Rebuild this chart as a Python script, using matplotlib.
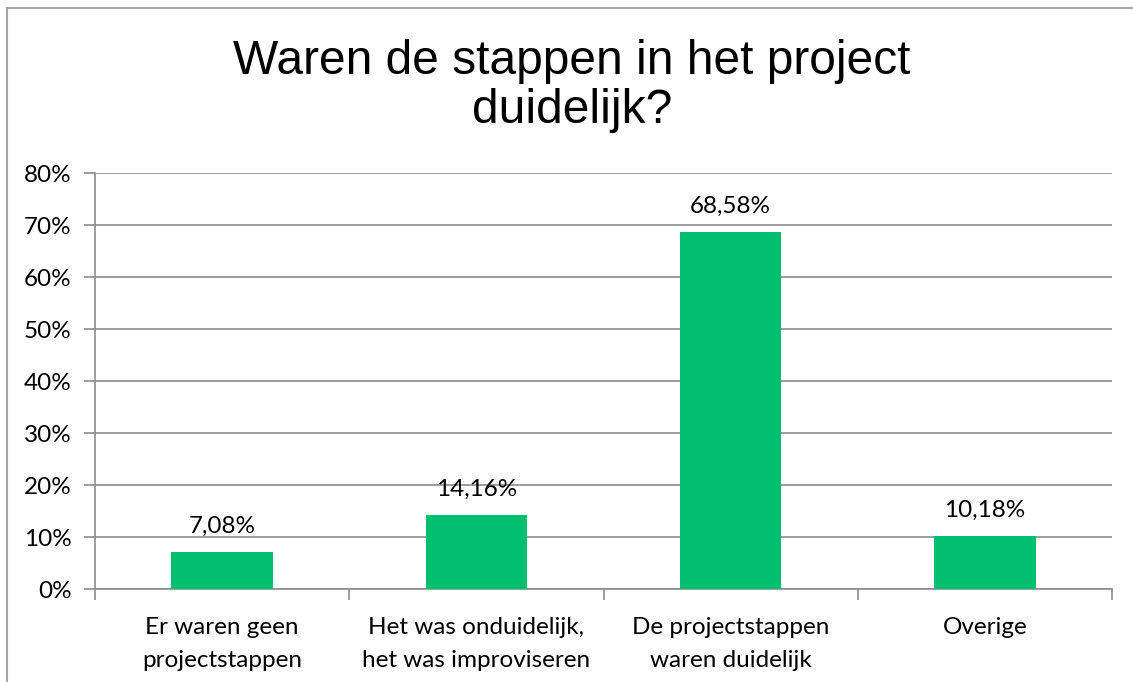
import numpy as np
import matplotlib.pyplot as plt
from matplotlib.patches import Rectangle

categories = ["Er waren geen\nprojectstappen",
              "Het was onduidelijk,\nhet was improviseren",
              "De projectstappen\nwaren duidelijk",
              "Overige"]
values = [7.08, 14.16, 68.58, 10.18]
value_labels = ["7,08%", "14,16%", "68,58%", "10,18%"]
yticks = [0, 10, 20, 30, 40, 50, 60, 70, 80]

bar_color = "#00BF6F"
grid_color = "#8C8C8C"
body_font = ["Lato", "DejaVu Sans"]

fig = plt.figure(figsize=(11.33, 6.82), dpi=100)
fig.patches.append(Rectangle((7 / 1133, -0.01), 1.1, 1 - 8 / 682 + 0.01,
                             transform=fig.transFigure, fill=False,
                             edgecolor="#A6A6A6", linewidth=1.5))

ax = fig.add_axes([95 / 1133, 1 - 589 / 682, (1112 - 95) / 1133, (589 - 173) / 682])
x = np.arange(len(categories))
ax.bar(x, values, width=0.4, color=bar_color, zorder=3)

ax.set_xlim(-0.5, len(categories) - 0.5)
ax.set_ylim(0, 80)
ax.set_yticks(yticks)
ax.set_yticklabels([f"{t}%" for t in yticks], family=body_font, fontsize=17.5)
ax.yaxis.grid(True, color=grid_color, linewidth=1.2, zorder=0)
ax.tick_params(axis="y", length=8, width=1.2, color=grid_color, pad=9)

ax.set_xticks(x)
ax.set_xticklabels(categories, family=body_font, fontsize=17.5, linespacing=1.72)
ax.tick_params(axis="x", length=0, pad=20)
ax.set_xticks(np.arange(-0.5, len(categories)), minor=True)
ax.tick_params(axis="x", which="minor", length=8, width=1.2, color=grid_color)

for s in ["top", "right"]:
    ax.spines[s].set_visible(False)
for s in ["left", "bottom"]:
    ax.spines[s].set_color(grid_color)
    ax.spines[s].set_linewidth(1.2)

for xi, v, lab in zip(x, values, value_labels):
    ax.annotate(lab, (xi, v), xytext=(0, 11), textcoords="offset points",
                ha="center", va="bottom", family=body_font, fontsize=17.5)

fig.text(572 / 1133, 1 - 86 / 682, "Waren de stappen in het project\nduidelijk?",
         ha="center", va="center", family="Liberation Sans", fontsize=34.5,
         linespacing=1.12)

fig.savefig("out.png", dpi=100)
